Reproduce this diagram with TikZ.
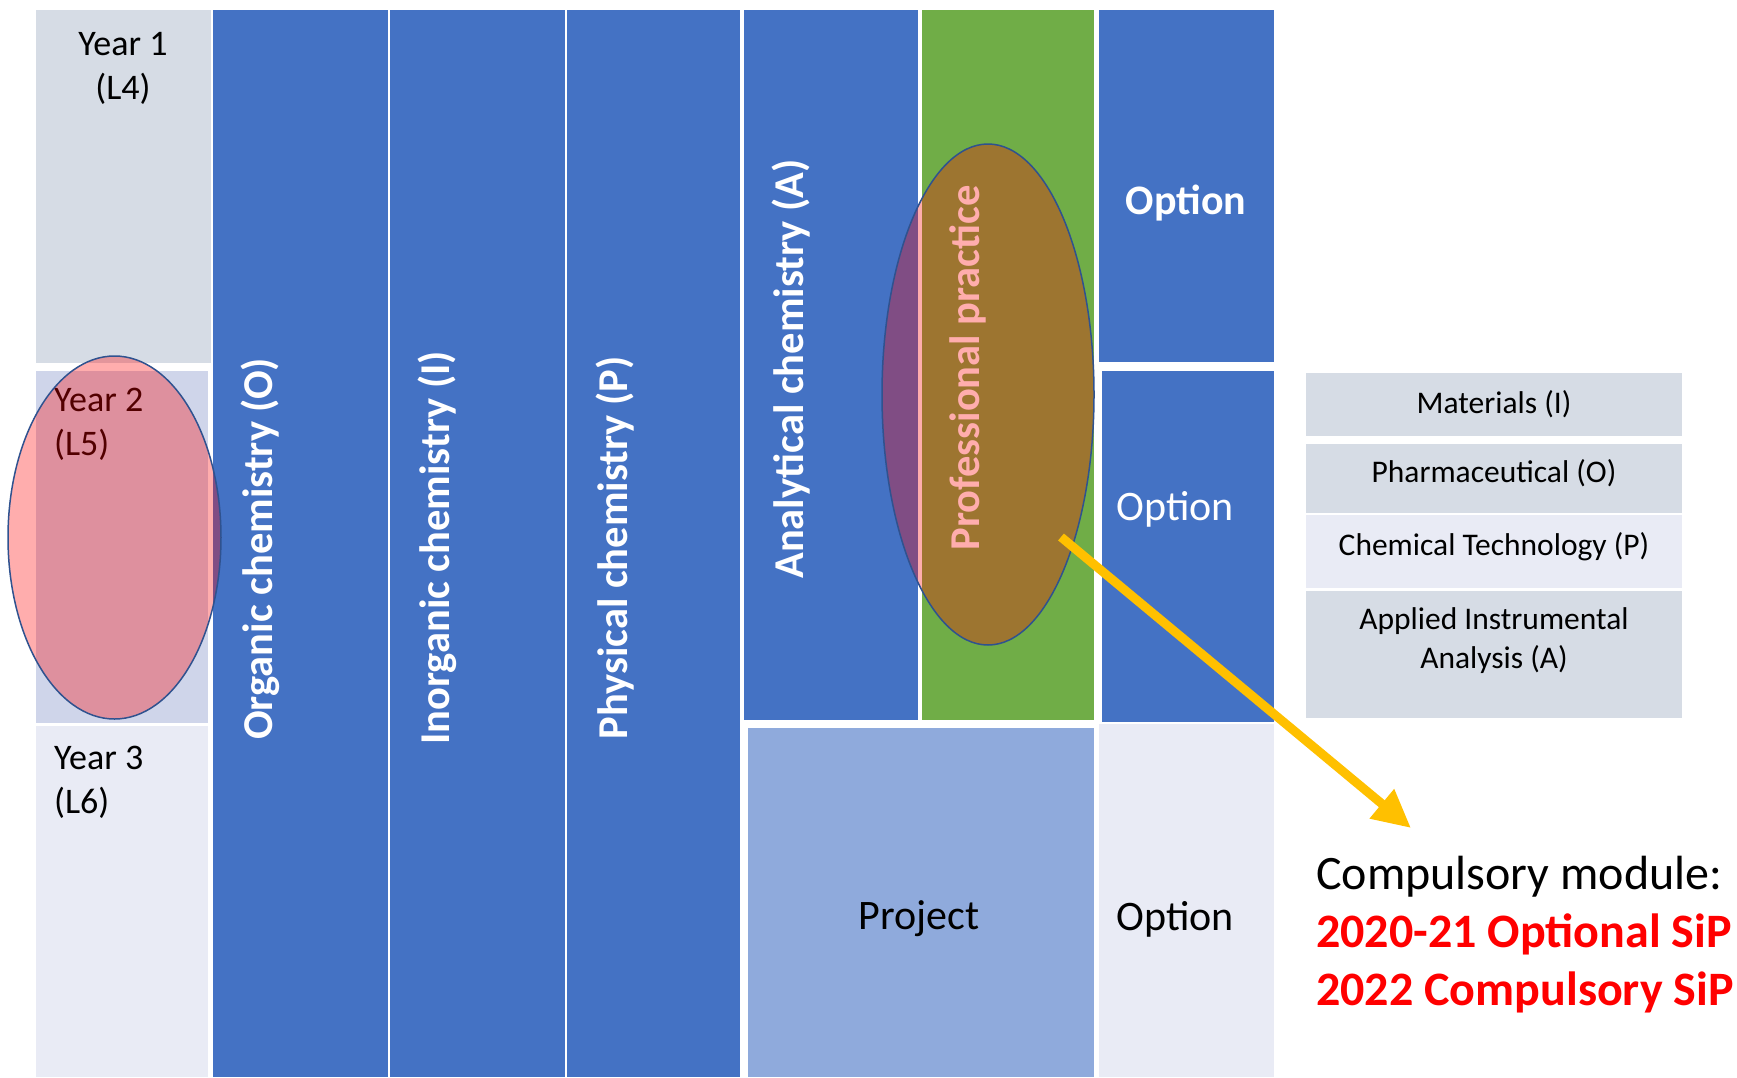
\documentclass[tikz,border=0pt]{standalone}
\usepackage{fontspec}
\setmainfont{Carlito}
\usetikzlibrary{arrows.meta}

\definecolor{colblue}{HTML}{4472C4}
\definecolor{colgreen}{HTML}{70AD47}
\definecolor{yeargrey}{HTML}{D6DCE5}
\definecolor{yearlilac}{HTML}{CFD5EA}
\definecolor{yearpale}{HTML}{E9EBF5}
\definecolor{projblue}{HTML}{8FAADC}
\definecolor{ringblue}{HTML}{2F528F}
\definecolor{arrowgold}{HTML}{FFC000}
\definecolor{sipred}{HTML}{FF0000}

\tikzset{
  subject/.style={rotate=90, text=white, inner sep=0pt,
    font=\fontsize{42.5}{50}\selectfont\bfseries},
  yeartext/.style={inner sep=0pt, font=\fontsize{36}{44}\selectfont},
  boxtext/.style={inner sep=0pt, font=\fontsize{42}{50}\selectfont},
  listtext/.style={inner sep=0pt, align=center, font=\fontsize{31.5}{39}\selectfont},
  focus/.style={draw=ringblue, line width=1.5pt, fill=red, fill opacity=0.32},
}

\begin{document}
\begin{tikzpicture}[x=1pt, y=-1pt]
    \useasboundingbox (0,0) rectangle (1737,1077);

    % year strip
    \fill[yeargrey]  (36,10)  rectangle (211,363);
    \fill[yearlilac] (36,371) rectangle (208,723);
    \fill[yearpale]  (36,726) rectangle (208,1077);

    % core subject columns
    \fill[colblue]  (213,10) rectangle (388,1077);
    \fill[colblue]  (390,10) rectangle (565,1077);
    \fill[colblue]  (567,10) rectangle (740,1077);
    \fill[colblue]  (744,10) rectangle (918,720);
    \fill[colgreen] (922,10) rectangle (1094,720);

    % options and project
    \fill[colblue]  (1099,10)  rectangle (1274,362);
    \fill[colblue]  (1102,371) rectangle (1274,722);
    \fill[projblue] (748,728)  rectangle (1094,1077);
    \fill[yearpale] (1099,724) rectangle (1274,1077);

    % list of option streams
    \fill[yeargrey] (1306,373) rectangle (1682,436);
    \fill[yeargrey] (1306,444) rectangle (1682,513);
    \fill[yearpale] (1306,515) rectangle (1682,588);
    \fill[yeargrey] (1306,591) rectangle (1682,718);

    \node[yeartext, align=center] (year1) at (123,68) {Year 1\\(L4)};
    \node[yeartext, align=left, anchor=west] (year2) at (54,424) {Year 2\\(L5)};
    \node[yeartext, align=left, anchor=west] (year3) at (54,782) {Year 3\\(L6)};

    \node[subject] (organic)   at (260,549) {Organic chemistry (O)};
    \node[subject] (inorganic) at (437,548) {Inorganic chemistry (I)};
    \node[subject] (physical)  at (615,548) {Physical chemistry (P)};
    \node[subject] (analytic)  at (791,369) {Analytical chemistry (A)};
    \node[subject] (practice)  at (968,368) {Professional practice};

    \node[boxtext, text=white, font=\fontsize{42}{50}\selectfont\bfseries] (opt1) at (1186,203) {Option};
    \node[boxtext, text=white] (opt2) at (1175,509) {Option};
    \node[boxtext] (project) at (919,919) {Project};
    \node[boxtext] (opt3) at (1175,919) {Option};

    \node[listtext] (materials) at (1494,404) {Materials (I)};
    \node[listtext] (pharma)    at (1494,473) {Pharmaceutical (O)};
    \node[listtext] (chemtech)  at (1494,547) {Chemical Technology (P)};
    \node[listtext] (applied)   at (1494,641) {Applied Instrumental\\Analysis (A)};

    \node[inner sep=0pt, anchor=west, align=left, font=\fontsize{48}{58}\selectfont] (note) at (1316,935)
        {Compulsory module:\\
         \textcolor{sipred}{\bfseries 2020-21 Optional SiP}\\
         \textcolor{sipred}{\bfseries 2022 Compulsory SiP}};

    % highlight rings
    \draw[focus] (114.5,537.5) ellipse [x radius=106.5pt, y radius=181.5pt];
    \draw[focus] (988,394.5) ellipse [x radius=106pt, y radius=250.5pt];

    \coordinate (ppoint) at (1061,537);
    \coordinate (sip) at (1411,828);
    \draw[arrowgold, line width=9pt, -{Triangle[length=38pt,width=36pt]}] (ppoint) -- (sip);
\end{tikzpicture}
\end{document}
